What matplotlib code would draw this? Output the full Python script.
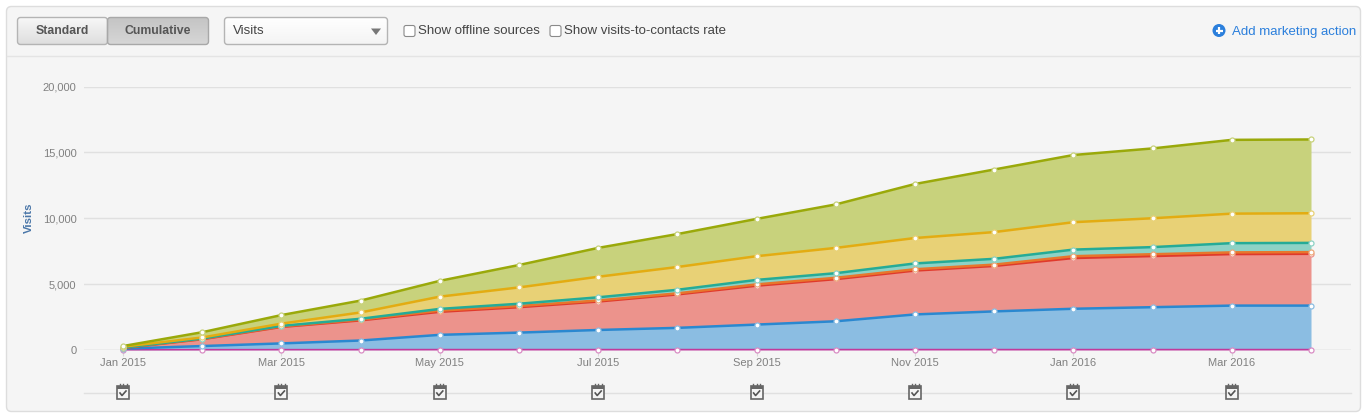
import numpy as np
import matplotlib
matplotlib.use("Agg")
import matplotlib.pyplot as plt
from matplotlib.patches import FancyBboxPatch, Rectangle, Circle, Polygon

plt.rcParams["font.family"] = ["Liberation Sans", "DejaVu Sans"]

# ----------------------------
# Data (cumulative tops of each layer)
# ----------------------------
months = ["Jan 2015", "Feb 2015", "Mar 2015", "Apr 2015", "May 2015", "Jun 2015",
          "Jul 2015", "Aug 2015", "Sep 2015", "Oct 2015", "Nov 2015", "Dec 2015",
          "Jan 2016", "Feb 2016", "Mar 2016", "Apr 2016"]
y_ticks = [0, 5000, 10000, 15000, 20000]

magenta = [20, 25, 30, 30, 35, 35, 35, 35, 35, 35, 35, 35, 35, 35, 35, 35]
blue = [100, 300, 500, 720, 1150, 1320, 1520, 1680, 1930, 2180, 2700, 2930, 3130, 3250, 3370, 3370]
red = [150, 820, 1750, 2250, 2900, 3250, 3680, 4220, 4880, 5380, 6030, 6380, 6980, 7130, 7280, 7300]
orange = [170, 850, 1790, 2310, 2990, 3340, 3760, 4300, 4980, 5480, 6130, 6480, 7120, 7270, 7410, 7430]
teal = [180, 870, 1830, 2370, 3120, 3510, 4000, 4570, 5320, 5830, 6570, 6920, 7620, 7810, 8110, 8130]
yellow = [250, 950, 2000, 2850, 4050, 4750, 5560, 6300, 7120, 7750, 8500, 8950, 9700, 10000, 10350, 10380]
green = [300, 1350, 2650, 3750, 5250, 6450, 7750, 8800, 9950, 11050, 12600, 13700, 14800, 15300, 15950, 15980]

# bottom to top: values, line colour, fill colour, line width
layers = [
    (magenta, "#c2399b", "#d98cc4", 1.1),
    (blue, "#2a88d0", "#8bbde2", 1.8),
    (red, "#e0392b", "#ec938c", 1.8),
    (orange, "#e8762c", "#eda878", 1.8),
    (teal, "#25ab97", "#8dd2c5", 1.8),
    (yellow, "#e3ac12", "#e8d176", 1.8),
    (green, "#9aa90a", "#c8d27c", 1.8),
]

W, H = 1369, 420
fig = plt.figure(figsize=(W / 100, H / 100), dpi=100, facecolor="white")

# ----------------------------
# Page chrome, in pixel coordinates
# ----------------------------
bg = fig.add_axes([0, 0, 1, 1])
bg.set_xlim(0, W)
bg.set_ylim(H, 0)
bg.axis("off")


def gradient_box(x, y, w, h, top, bottom, edge, rad=3):
    box = FancyBboxPatch((x, y), w, h, boxstyle=f"round,pad=0,rounding_size={rad}",
                         fc="none", ec=edge, lw=1, zorder=3)
    bg.add_patch(box)
    c1 = np.array(matplotlib.colors.to_rgb(top))
    c2 = np.array(matplotlib.colors.to_rgb(bottom))
    ramp = np.linspace(0, 1, 32)[:, None, None]
    img = c1[None, None, :] * (1 - ramp) + c2[None, None, :] * ramp
    im = bg.imshow(img, extent=(x, x + w, y + h, y), aspect="auto", zorder=2)
    im.set_clip_path(box)
    bg.set_xlim(0, W)
    bg.set_ylim(H, 0)


bg.add_patch(FancyBboxPatch((6.5, 6.5), 1354, 405, boxstyle="round,pad=0,rounding_size=5",
                            fc="#f5f5f5", ec="#dddddd", lw=1, zorder=1))
bg.plot([7, 1360], [55.5, 55.5], color="#e4e4e4", lw=1, zorder=1)

gradient_box(17.5, 17.5, 90, 27, "#f8f8f8", "#dedede", "#b4b4b4")
gradient_box(107.5, 17.5, 101, 27, "#c4c4c4", "#d6d6d6", "#a8a8a8")
bg.text(62, 31.5, "Standard", fontsize=8.8, fontweight="bold", color="#555555",
        ha="center", va="center", zorder=4)
bg.text(157.5, 31.5, "Cumulative", fontsize=8.8, fontweight="bold", color="#555555",
        ha="center", va="center", zorder=4)

gradient_box(224.5, 17.5, 163, 27, "#ffffff", "#f4f4f4", "#b4b4b4")
bg.text(233, 31.5, "Visits", fontsize=9.5, color="#444444", va="center", zorder=4)
bg.add_patch(Polygon([[371, 28.5], [381, 28.5], [376, 35]], fc="#777777", ec="none", zorder=4))

for bx, label in [(404, "Show offline sources"), (550, "Show visits-to-contacts rate")]:
    bg.add_patch(FancyBboxPatch((bx, 25.5), 11, 11, boxstyle="round,pad=0,rounding_size=2",
                                fc="white", ec="#8a8a8a", lw=0.8, zorder=3))
    bg.text(bx + 14, 31.5, label, fontsize=9.5, color="#444444", va="center", zorder=4)

bg.add_patch(Circle((1219, 30.5), 6.5, fc="#2b7fdc", ec="none", zorder=3))
bg.plot([1215.5, 1222.5], [30.5, 30.5], color="white", lw=1.6, zorder=4, solid_capstyle="butt")
bg.plot([1219, 1219], [27, 34], color="white", lw=1.6, zorder=4, solid_capstyle="butt")
bg.text(1232, 31.5, "Add marketing action", fontsize=9.5, color="#2b7fdc", va="center", zorder=4)

# ----------------------------
# Chart
# ----------------------------
ax_left, ax_right, ax_top, ax_bottom = 84, 1351, 86.5, 350
ax = fig.add_axes([ax_left / W, 1 - ax_bottom / H, (ax_right - ax_left) / W, (ax_bottom - ax_top) / H])
ax.patch.set_alpha(0)
ax.set_ylim(0, 20000)
ax.set_xlim((ax_left - 123) / 79.2, (ax_right - 123) / 79.2)
x = np.arange(len(months))

for v in y_ticks:
    ax.axhline(v, color="#c8c8c8" if v == 0 else "#e0e0e0", lw=1, zorder=1)

lower = np.zeros(len(months))
for values, line_c, fill_c, lw in layers:
    ax.fill_between(x, lower, values, color=fill_c, lw=0, zorder=2)
    lower = np.array(values)
for values, line_c, fill_c, lw in layers:
    ax.plot(x, values, color=line_c, lw=lw, zorder=3, clip_on=False)
    ax.plot(x, values, ls="none", marker="o", ms=3.6, mfc="white", mec=fill_c, mew=0.9,
            zorder=4, clip_on=False)

ax.set_yticks(y_ticks)
ax.set_yticklabels([f"{v:,}" for v in y_ticks], fontsize=8.0, color="#808080")
ax.set_xticks(x[::2])
ax.set_xticklabels(months[::2], fontsize=8.0, color="#808080")
ax.tick_params(axis="y", length=0, pad=5.5)
ax.tick_params(axis="x", length=4, width=0.8, color="#d8d8d8", pad=2)
for s in ax.spines.values():
    s.set_visible(False)
bg.text(29, 218, "Visits", rotation=90, fontsize=8.2, fontweight="bold", color="#4a76a8",
        ha="center", va="center", zorder=4)

# ----------------------------
# Note icons under the axis
# ----------------------------
bg.plot([84, 1351], [392.5, 392.5], color="#e0e0e0", lw=1, zorder=1)
for xi in x[::2]:
    cx = 123 + xi * 79.2
    bg.add_patch(Rectangle((cx - 6, 386), 12, 13, fc="#f5f5f5", ec="#666666", lw=1.2, zorder=3))
    bg.add_patch(Rectangle((cx - 6, 385.5), 12, 3.5, fc="#666666", ec="none", zorder=3))
    for dx in (-3.5, 0, 3.5):
        bg.plot([cx + dx, cx + dx], [384, 387], color="#666666", lw=1, zorder=4)
    bg.plot([cx - 3, cx - 1, cx + 3], [393, 395.5, 391], color="#555555", lw=1.2, zorder=4)

fig.savefig("out.png", dpi=100, facecolor="white")
